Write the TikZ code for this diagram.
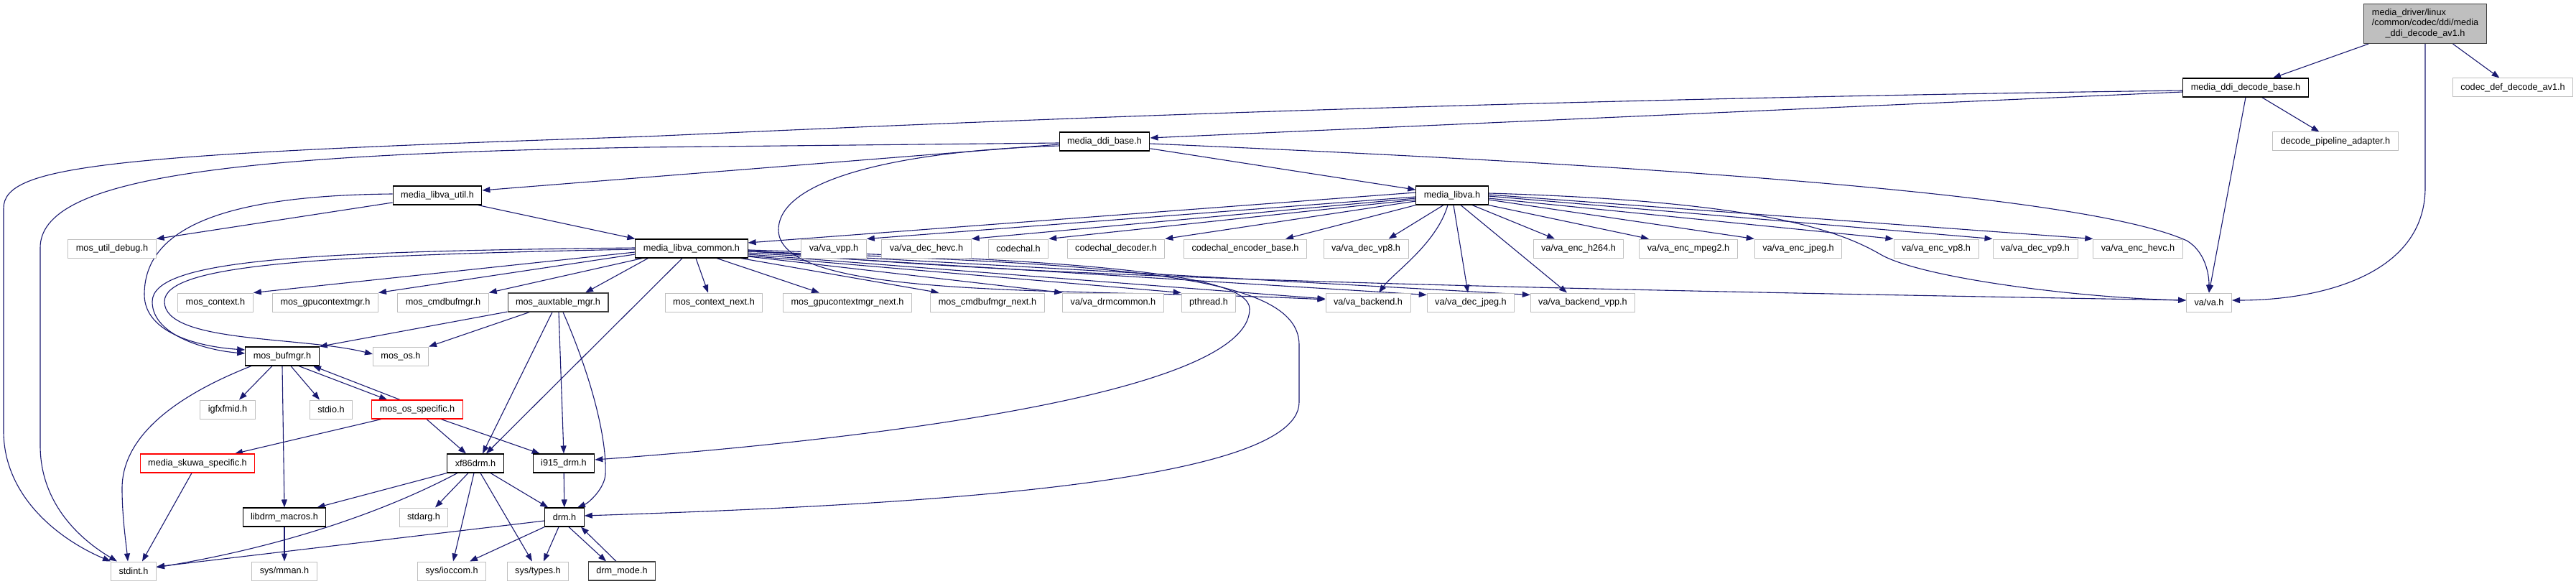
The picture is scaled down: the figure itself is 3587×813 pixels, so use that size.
\documentclass[tikz,border=0pt]{standalone}
\usepackage{fontspec}
\setmainfont{Liberation Sans}
\usepackage{xcolor}
\usepackage{tikz}
\usetikzlibrary{arrows.meta, backgrounds}

\definecolor{edgeblue}{HTML}{191970}
\definecolor{boxgray}{HTML}{BFBFBF}
\definecolor{darkframe}{HTML}{404040}

\begin{document}
\begin{tikzpicture}[
        x=1pt, y=-1pt,
        >={Triangle[length=11pt, width=8pt]},
        every node/.style={font=\fontsize{12.7}{14.5}\selectfont},
        hdr/.style={draw=black, line width=1.1pt, fill=white, minimum height=26pt, inner xsep=11pt, inner ysep=0pt},
        ext/.style={hdr, draw=boxgray, line width=1pt},
        trunc/.style={hdr, draw=red},
        arr/.style={->, draw=edgeblue, line width=1.1pt},
    ]

    \useasboundingbox (0,0) rectangle (3587,813);

    %% Top: the file itself
    \node[hdr, fill=boxgray, draw=darkframe, minimum height=55pt] (root) at (3377,33)
        {\begin{tabular}{@{}l@{}}media\_driver/linux\\/common/codec/ddi/media\\\multicolumn{1}{@{}c@{}}{\_ddi\_decode\_av1.h}\end{tabular}};

    %% Row 1
    \node[hdr] (ddb) at (3127,122) {media\_ddi\_decode\_base.h};
    \node[ext] (cdav1) at (3499,122) {codec\_def\_decode\_av1.h};

    %% Row 2
    \node[hdr] (ddib) at (1538,197) {media\_ddi\_base.h};
    \node[ext] (dpa) at (3252,197) {decode\_pipeline\_adapter.h};

    %% Row 3
    \node[hdr] (util) at (609,272) {media\_libva\_util.h};
    \node[hdr] (libva) at (2022,272) {media\_libva.h};

    %% Row 4
    \node[ext] (dbg) at (156,346) {mos\_util\_debug.h};
    \node[hdr] (common) at (963,346) {media\_libva\_common.h};
    \node[ext] (vpp) at (1161,346) {va/va\_vpp.h};
    \node[ext] (dhevc) at (1290,346) {va/va\_dec\_hevc.h};
    \node[ext] (codechal) at (1418,346) {codechal.h};
    \node[ext] (chdec) at (1554,346) {codechal\_decoder.h};
    \node[ext] (chenc) at (1734,346) {codechal\_encoder\_base.h};
    \node[ext] (dvp8) at (1902,346) {va/va\_dec\_vp8.h};
    \node[ext] (eh264) at (2198,346) {va/va\_enc\_h264.h};
    \node[ext] (empeg2) at (2351,346) {va/va\_enc\_mpeg2.h};
    \node[ext] (ejpeg) at (2504,346) {va/va\_enc\_jpeg.h};
    \node[ext] (evp8) at (2696,346) {va/va\_enc\_vp8.h};
    \node[ext] (dvp9) at (2834,346) {va/va\_dec\_vp9.h};
    \node[ext] (ehevc) at (2977,346) {va/va\_enc\_hevc.h};

    %% Row 5
    \node[ext] (ctx) at (300,421) {mos\_context.h};
    \node[ext] (gctx) at (453,421) {mos\_gpucontextmgr.h};
    \node[ext] (cmd) at (617,421) {mos\_cmdbufmgr.h};
    \node[hdr, draw=darkframe] (aux) at (777,421) {mos\_auxtable\_mgr.h};
    \node[ext] (ctxn) at (994,421) {mos\_context\_next.h};
    \node[ext] (gctxn) at (1180,421) {mos\_gpucontextmgr\_next.h};
    \node[ext] (cmdn) at (1375,421) {mos\_cmdbufmgr\_next.h};
    \node[ext] (drmc) at (1550,421) {va/va\_drmcommon.h};
    \node[ext] (pthr) at (1683,421) {pthread.h};
    \node[ext] (backend) at (1905,421) {va/va\_backend.h};
    \node[ext] (djpeg) at (2048,421) {va/va\_dec\_jpeg.h};
    \node[ext] (bvpp) at (2204,421) {va/va\_backend\_vpp.h};
    \node[ext] (va) at (3076,421) {va/va.h};

    %% Row 6
    \node[hdr] (bufmgr) at (393,496) {mos\_bufmgr.h};
    \node[ext] (osh) at (558,496) {mos\_os.h};

    %% Row 7
    \node[ext] (igfx) at (317,570) {igfxfmid.h};
    \node[ext] (stdio) at (461,570) {stdio.h};
    \node[trunc] (osspec) at (581,570) {mos\_os\_specific.h};

    %% Row 8
    \node[trunc] (skuwa) at (275,645) {media\_skuwa\_specific.h};
    \node[hdr] (xf86) at (662,645) {xf86drm.h};
    \node[hdr] (i915) at (785,645) {i915\_drm.h};

    %% Row 9
    \node[hdr] (macros) at (396,720) {libdrm\_macros.h};
    \node[ext] (stdarg) at (590,720) {stdarg.h};
    \node[hdr] (drm) at (786,720) {drm.h};

    %% Row 10
    \node[ext] (stdint) at (186,795) {stdint.h};
    \node[ext] (mman) at (396,795) {sys/mman.h};
    \node[ext] (ioccom) at (629,795) {sys/ioccom.h};
    \node[ext] (types) at (749,795) {sys/types.h};
    \node[hdr, draw=darkframe] (drmmode) at (866,795) {drm\_mode.h};

    \begin{scope}[on background layer]
    %% Includes of the file itself
    \draw[arr] (root) -- (ddb);
    \draw[arr] (root) -- (cdav1);
    \draw[arr] (root.south) -- ++(0,200) to[out=-90, in=0] ([yshift=3pt]va.east);

    %% media_ddi_decode_base.h
    \draw[arr] (ddb) -- (dpa);
    \draw[arr] (ddb.south) -- (va.north);
    \draw[arr] ([yshift=-6pt]ddb.west) -- ([yshift=5pt]ddib.east);
    \draw[arr] ([yshift=-4pt]ddb.west) .. controls (2000,140) and (1300,172) .. (900,190)
        .. controls (150,215) and (5,230) .. (5,290) -- (5,600)
        .. controls (5,690) and (80,750) .. (stdint.north west);

    %% media_ddi_base.h
    \draw[arr] ([yshift=-2pt]ddib.west) -- (900,205) .. controls (300,215) and (56,250) .. (56,345)
        -- (56,620) .. controls (56,700) and (110,750) .. ([xshift=9pt]stdint.north west);
    \draw[arr] ([yshift=-4pt]ddib.west) -- ([yshift=7pt]util.east);
    \draw[arr] ([yshift=-6pt]ddib.west) .. controls (1250,210) and (1084,250) .. (1084,320)
        .. controls (1084,420) and (1500,400) .. ([yshift=4pt]backend.west);
    \draw[arr] (ddib) -- (libva);
    \draw[arr] ([yshift=-3pt]ddib.east) .. controls (2300,230) and (2900,270) .. (3045,335)
        .. controls (3070,350) and (3076,380) .. (va.north);

    %% media_libva.h
    \draw[arr] ([yshift=4pt]libva.west) -- ([yshift=8pt]common.east);
    \draw[arr] ([yshift=-2pt]libva.west) -- (vpp.north east);
    \draw[arr] ([yshift=-4pt]libva.west) -- (dhevc.north east);
    \draw[arr] ([yshift=-6pt]libva.west) -- (codechal.north east);
    \draw[arr] ([yshift=-8pt]libva.west) -- (chdec.north east);
    \draw[arr] (libva.south west) -- ([xshift=-30pt]chenc.north east);
    \draw[arr] ([xshift=-12pt]libva.south) -- ([xshift=-28pt]dvp8.north east);
    \draw[arr] ([xshift=-6pt]libva.south) .. controls (2000,340) and (1940,380) .. ([xshift=15pt]backend.north);
    \draw[arr] ([xshift=2pt]libva.south) -- ([xshift=-4pt]djpeg.north);
    \draw[arr] ([xshift=12pt]libva.south) -- ([xshift=-22pt]bvpp.north);
    \draw[arr] ([xshift=28pt]libva.south) -- ([xshift=-33pt]eh264.north);
    \draw[arr] (libva.south east) -- ([xshift=-55pt]empeg2.north);
    \draw[arr] ([yshift=-6pt]libva.east) -- (ejpeg.north west);
    \draw[arr] ([yshift=-4pt]libva.east) -- (evp8.north west);
    \draw[arr] ([yshift=-1pt]libva.east) -- (dvp9.north west);
    \draw[arr] ([yshift=1pt]libva.east) -- (ehevc.north west);
    \draw[arr] ([yshift=3pt]libva.east) .. controls (2450,280) and (2560,320) .. (2620,355)
        .. controls (2680,388) and (2900,415) .. ([yshift=3pt]va.west);

    %% media_libva_util.h
    \draw[arr] ([yshift=-10pt]util.west) -- (dbg.north east);
    \draw[arr] ([xshift=-6pt]util.south east) -- (common.north west);
    \draw[arr] ([yshift=2pt]util.west) .. controls (330,272) and (201,310) .. (201,410)
        .. controls (201,465) and (280,483) .. ([yshift=9pt]bufmgr.west);

    %% media_libva_common.h
    \draw[arr] ([yshift=1pt]common.west) .. controls (420,350) and (212,362) .. (212,420)
        .. controls (212,468) and (290,488) .. ([yshift=4pt]bufmgr.west);
    \draw[arr] ([yshift=-1pt]common.west) .. controls (440,356) and (229,368) .. (229,420)
        .. controls (229,478) and (420,468) .. ([yshift=3pt]osh.west);
    \draw[arr] ([yshift=-5pt]common.west) -- (ctx.north east);
    \draw[arr] ([yshift=-8pt]common.west) -- (gctx.north east);
    \draw[arr] ([xshift=10pt]common.south west) -- (cmd.north east);
    \draw[arr] ([xshift=18pt]common.south west) -- ([xshift=38pt]aux.north);
    \draw[arr] ([xshift=-13pt]common.south) -- ([xshift=15pt]xf86.north);
    \draw[arr] ([xshift=6pt]common.south) -- ([xshift=-8pt]ctxn.north);
    \draw[arr] ([xshift=35pt]common.south) -- ([xshift=-39pt]gctxn.north);
    \draw[arr] ([xshift=-10pt]common.south east) -- ([xshift=12pt]cmdn.north west);
    \draw[arr] ([yshift=-11pt]common.east) -- (drmc.north west);
    \draw[arr] ([yshift=-10pt]common.east) -- (pthr.north west);
    \draw[arr] ([yshift=-8pt]common.east) -- ([yshift=5pt]backend.west);
    \draw[arr] ([yshift=-6pt]common.east) -- ([yshift=-3pt]djpeg.north west);
    \draw[arr] ([yshift=-4pt]common.east) -- ([yshift=-3pt]bvpp.north west);
    \draw[arr] ([yshift=-2pt]common.east) .. controls (1400,385) and (2000,400) .. ([yshift=3pt]va.west);
    \draw[arr] ([yshift=-2pt]common.east) .. controls (1500,362) and (1740,380) .. (1740,430)
        .. controls (1740,560) and (1100,620) .. ([yshift=5pt]i915.east);
    \draw[arr] ([yshift=-4pt]common.east) .. controls (1550,368) and (1809,380) .. (1809,480)
        -- (1809,560) .. controls (1809,680) and (1200,705) .. ([yshift=2pt]drm.east);

    %% mos_auxtable_mgr.h
    \draw[arr] (aux) -- (bufmgr.north east);
    \draw[arr] (aux) -- (osh.north east);
    \draw[arr] ([xshift=-8pt]aux.south) -- ([xshift=10pt]xf86.north);
    \draw[arr] ([xshift=1pt]aux.south) -- (i915.north);
    \draw[arr] ([xshift=7pt]aux.south) .. controls (830,540) and (845,620) .. (843,660)
        .. controls (842,680) and (820,700) .. ([xshift=18pt]drm.north);

    %% mos_bufmgr.h
    \draw[arr] ([xshift=-43pt]bufmgr.south) .. controls (260,545) and (170,600) .. (170,680)
        .. controls (170,720) and (176,760) .. ([xshift=-8pt]stdint.north);
    \draw[arr] ([xshift=-14pt]bufmgr.south) -- ([xshift=16pt]igfx.north);
    \draw[arr] ([xshift=12pt]bufmgr.south) -- ([xshift=-16pt]stdio.north);
    \draw[arr] ([xshift=23pt]bufmgr.south) -- ([xshift=22pt]osspec.north west);
    \draw[arr] (bufmgr.south) -- (macros.north);

    %% mos_os_specific.h
    \draw[arr] ([xshift=-24pt]osspec.north) -- ([xshift=43pt]bufmgr.south);
    \draw[arr] ([xshift=-50pt]osspec.south) -- ([xshift=52pt]skuwa.north);
    \draw[arr] ([xshift=13pt]osspec.south) -- ([xshift=-13pt]xf86.north);
    \draw[arr] ([xshift=33pt]osspec.south) -- ([xshift=10pt]i915.north west);

    %% media_skuwa_specific.h
    \draw[arr] ([xshift=-8pt]skuwa.south) -- ([xshift=12pt]stdint.north);

    %% xf86drm.h
    \draw[arr] (xf86.south west) -- ([xshift=-13pt]macros.north east);
    \draw[arr] ([xshift=-25pt]xf86.south) .. controls (540,710) and (400,760) .. ([yshift=5pt]stdint.east);
    \draw[arr] ([xshift=-10pt]xf86.south) -- ([xshift=16pt]stdarg.north);
    \draw[arr] ([xshift=-2pt]xf86.south) -- ([xshift=2pt]ioccom.north);
    \draw[arr] ([xshift=7pt]xf86.south) -- ([xshift=-8pt]types.north);
    \draw[arr] ([xshift=21pt]xf86.south) -- ([xshift=5pt]drm.north west);

    %% i915_drm.h
    \draw[arr] (i915) -- (drm);

    %% drm.h
    \draw[arr] ([yshift=-5pt]drm.west) -- ([yshift=6pt]stdint.east);
    \draw[arr] (drm.south west) -- ([xshift=25pt]ioccom.north);
    \draw[arr] ([xshift=-8pt]drm.south) -- ([xshift=8pt]types.north);
    \draw[arr] ([xshift=6pt]drm.south) -- ([xshift=-22pt]drmmode.north);
    \draw[arr] ([xshift=-8pt]drmmode.north) -- ([xshift=23pt]drm.south);

    %% libdrm_macros.h
    \draw[arr] (macros) -- (mman);
    \end{scope}

\end{tikzpicture}
\end{document}
